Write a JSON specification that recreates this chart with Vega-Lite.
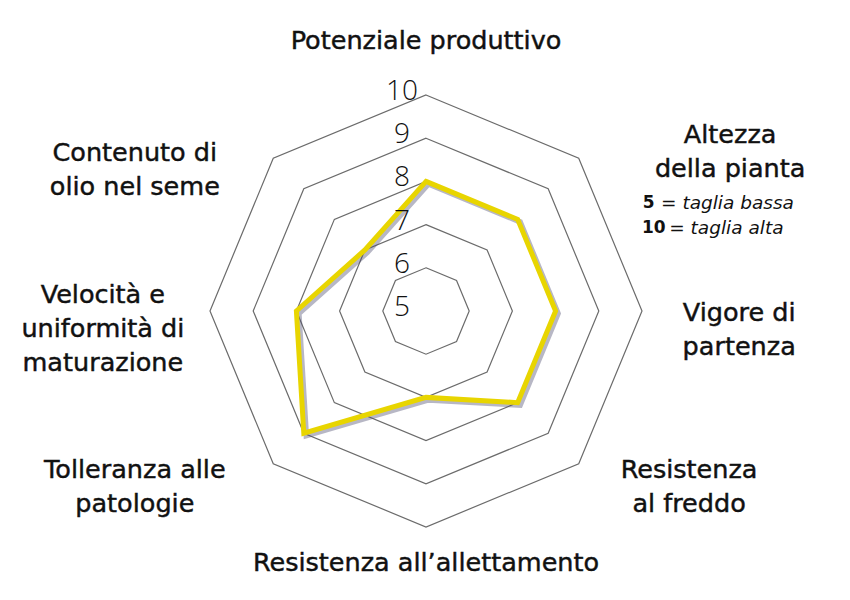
{
  "$schema": "https://vega.github.io/schema/vega-lite/v6.json",
  "width": 850,
  "height": 600,
  "autosize": {"type": "none"},
  "padding": 0,
  "background": "white",
  "datasets": {
    "valutazioni": [
      {"asse": "Potenziale produttivo", "ordine": 0, "valore": 8},
      {"asse": "Altezza\ndella pianta", "ordine": 1, "valore": 8},
      {"asse": "Vigore di\npartenza", "ordine": 2, "valore": 8},
      {"asse": "Resistenza\nal freddo", "ordine": 3, "valore": 8},
      {"asse": "Resistenza all’allettamento", "ordine": 4, "valore": 7},
      {"asse": "Tolleranza alle\npatologie", "ordine": 5, "valore": 9},
      {"asse": "Velocità e\nuniformità di\nmaturazione", "ordine": 6, "valore": 8},
      {"asse": "Contenuto di\nolio nel seme", "ordine": 7, "valore": 7}
    ],
    "griglia": [
      {"livello": 6, "ordine": [0, 1, 2, 3, 4, 5, 6, 7]},
      {"livello": 7, "ordine": [0, 1, 2, 3, 4, 5, 6, 7]},
      {"livello": 8, "ordine": [0, 1, 2, 3, 4, 5, 6, 7]},
      {"livello": 9, "ordine": [0, 1, 2, 3, 4, 5, 6, 7]},
      {"livello": 10, "ordine": [0, 1, 2, 3, 4, 5, 6, 7]}
    ],
    "scala": [
      {"livello": 5}, {"livello": 6}, {"livello": 7},
      {"livello": 8}, {"livello": 9}, {"livello": 10}
    ]
  },
  "data": {"name": "valutazioni"},
  "layer": [
    {
      "data": {"name": "griglia"},
      "transform": [
        {"flatten": ["ordine"]},
        {"calculate": "(datum.livello - 5) * sin(datum.ordine * PI / 4)", "as": "px"},
        {"calculate": "(datum.livello - 5) * cos(datum.ordine * PI / 4)", "as": "py"}
      ],
      "mark": {"type": "line", "interpolate": "linear-closed", "stroke": "#6b6b6b", "strokeWidth": 1.2},
      "encoding": {
        "x": {"field": "px", "type": "quantitative", "scale": {"domain": [-9.861, 9.815], "nice": false, "zero": false}, "axis": null},
        "y": {"field": "py", "type": "quantitative", "scale": {"domain": [-6.69, 7.199], "nice": false, "zero": false}, "axis": null},
        "detail": {"field": "livello", "type": "nominal"},
        "order": {"field": "ordine", "type": "quantitative"}
      }
    },
    {
      "transform": [
        {"calculate": "(datum.valore - 5) * sin(datum.ordine * PI / 4)", "as": "px"},
        {"calculate": "(datum.valore - 5) * cos(datum.ordine * PI / 4)", "as": "py"}
      ],
      "mark": {"type": "line", "interpolate": "linear-closed", "stroke": "#4a4a6e", "strokeOpacity": 0.4, "strokeWidth": 5.5, "strokeJoin": "miter", "xOffset": 2.5, "yOffset": 2.5},
      "encoding": {
        "x": {"field": "px", "type": "quantitative"},
        "y": {"field": "py", "type": "quantitative"},
        "order": {"field": "ordine", "type": "quantitative"}
      }
    },
    {
      "transform": [
        {"calculate": "(datum.valore - 5) * sin(datum.ordine * PI / 4)", "as": "px"},
        {"calculate": "(datum.valore - 5) * cos(datum.ordine * PI / 4)", "as": "py"}
      ],
      "mark": {"type": "line", "interpolate": "linear-closed", "stroke": "#e8d500", "strokeWidth": 5, "strokeJoin": "miter"},
      "encoding": {
        "x": {"field": "px", "type": "quantitative"},
        "y": {"field": "py", "type": "quantitative"},
        "order": {"field": "ordine", "type": "quantitative"}
      }
    },
    {
      "data": {"name": "scala"},
      "transform": [{"calculate": "datum.livello - 5", "as": "py"}],
      "mark": {"type": "text", "font": "Open Sans", "fontSize": 28, "fontWeight": 300, "fill": "#111111", "dx": -24, "dy": -3, "baseline": "middle"},
      "encoding": {
        "x": {"datum": 0, "type": "quantitative"},
        "y": {"field": "py", "type": "quantitative"},
        "text": {"field": "livello", "type": "nominal"}
      }
    },
    {
      "transform": [{"filter": "datum.ordine == 0"}],
      "mark": {"type": "text", "font": "DejaVu Sans", "fontSize": 25.5, "fill": "#111111", "stroke": "#111111", "strokeWidth": 0.45, "baseline": "middle", "lineBreak": "\n", "lineHeight": 34},
      "encoding": {"x": {"datum": 0, "type": "quantitative"}, "y": {"datum": 6.25, "type": "quantitative"}, "text": {"field": "asse", "type": "nominal"}}
    },
    {
      "transform": [{"filter": "datum.ordine == 1"}],
      "mark": {"type": "text", "font": "DejaVu Sans", "fontSize": 25.5, "fill": "#111111", "stroke": "#111111", "strokeWidth": 0.45, "baseline": "middle", "lineBreak": "\n", "lineHeight": 34},
      "encoding": {"x": {"datum": 7.04, "type": "quantitative"}, "y": {"datum": 4.07, "type": "quantitative"}, "text": {"field": "asse", "type": "nominal"}}
    },
    {
      "transform": [{"filter": "datum.ordine == 2"}],
      "mark": {"type": "text", "font": "DejaVu Sans", "fontSize": 25.5, "fill": "#111111", "stroke": "#111111", "strokeWidth": 0.45, "baseline": "middle", "lineBreak": "\n", "lineHeight": 34},
      "encoding": {"x": {"datum": 7.25, "type": "quantitative"}, "y": {"datum": -0.05, "type": "quantitative"}, "text": {"field": "asse", "type": "nominal"}}
    },
    {
      "transform": [{"filter": "datum.ordine == 3"}],
      "mark": {"type": "text", "font": "DejaVu Sans", "fontSize": 25.5, "fill": "#111111", "stroke": "#111111", "strokeWidth": 0.45, "baseline": "middle", "lineBreak": "\n", "lineHeight": 34},
      "encoding": {"x": {"datum": 6.09, "type": "quantitative"}, "y": {"datum": -3.68, "type": "quantitative"}, "text": {"field": "asse", "type": "nominal"}}
    },
    {
      "transform": [{"filter": "datum.ordine == 4"}],
      "mark": {"type": "text", "font": "DejaVu Sans", "fontSize": 25.5, "fill": "#111111", "stroke": "#111111", "strokeWidth": 0.45, "baseline": "middle", "lineBreak": "\n", "lineHeight": 34},
      "encoding": {"x": {"datum": 0, "type": "quantitative"}, "y": {"datum": -5.83, "type": "quantitative"}, "text": {"field": "asse", "type": "nominal"}}
    },
    {
      "transform": [{"filter": "datum.ordine == 5"}],
      "mark": {"type": "text", "font": "DejaVu Sans", "fontSize": 25.5, "fill": "#111111", "stroke": "#111111", "strokeWidth": 0.45, "baseline": "middle", "lineBreak": "\n", "lineHeight": 34},
      "encoding": {"x": {"datum": -6.74, "type": "quantitative"}, "y": {"datum": -3.68, "type": "quantitative"}, "text": {"field": "asse", "type": "nominal"}}
    },
    {
      "transform": [{"filter": "datum.ordine == 6"}],
      "mark": {"type": "text", "font": "DejaVu Sans", "fontSize": 25.5, "fill": "#111111", "stroke": "#111111", "strokeWidth": 0.45, "baseline": "middle", "lineBreak": "\n", "lineHeight": 34},
      "encoding": {"x": {"datum": -7.48, "type": "quantitative"}, "y": {"datum": 0.37, "type": "quantitative"}, "text": {"field": "asse", "type": "nominal"}}
    },
    {
      "transform": [{"filter": "datum.ordine == 7"}],
      "mark": {"type": "text", "font": "DejaVu Sans", "fontSize": 25.5, "fill": "#111111", "stroke": "#111111", "strokeWidth": 0.45, "baseline": "middle", "lineBreak": "\n", "lineHeight": 34},
      "encoding": {"x": {"datum": -6.74, "type": "quantitative"}, "y": {"datum": 3.66, "type": "quantitative"}, "text": {"field": "asse", "type": "nominal"}}
    },
    {
      "transform": [{"filter": "datum.ordine == 1"}],
      "mark": {"type": "text", "font": "DejaVu Sans", "fontSize": 17, "fontWeight": "bold", "fill": "#111111", "align": "left", "baseline": "middle"},
      "encoding": {"x": {"datum": 5.02, "type": "quantitative"}, "y": {"datum": 2.5, "type": "quantitative"}, "text": {"value": "5"}}
    },
    {
      "transform": [{"filter": "datum.ordine == 1"}],
      "mark": {"type": "text", "font": "DejaVu Sans", "fontSize": 18.5, "fontStyle": "italic", "fill": "#111111", "align": "left", "baseline": "middle"},
      "encoding": {"x": {"datum": 5.44, "type": "quantitative"}, "y": {"datum": 2.5, "type": "quantitative"}, "text": {"value": "= taglia bassa"}}
    },
    {
      "transform": [{"filter": "datum.ordine == 1"}],
      "mark": {"type": "text", "font": "DejaVu Sans", "fontSize": 17, "fontWeight": "bold", "fill": "#111111", "align": "left", "baseline": "middle"},
      "encoding": {"x": {"datum": 5.0, "type": "quantitative"}, "y": {"datum": 1.92, "type": "quantitative"}, "text": {"value": "10"}}
    },
    {
      "transform": [{"filter": "datum.ordine == 1"}],
      "mark": {"type": "text", "font": "DejaVu Sans", "fontSize": 18.5, "fontStyle": "italic", "fill": "#111111", "align": "left", "baseline": "middle"},
      "encoding": {"x": {"datum": 5.63, "type": "quantitative"}, "y": {"datum": 1.92, "type": "quantitative"}, "text": {"value": "= taglia alta"}}
    }
  ],
  "config": {
    "view": {"stroke": null}
  }
}
